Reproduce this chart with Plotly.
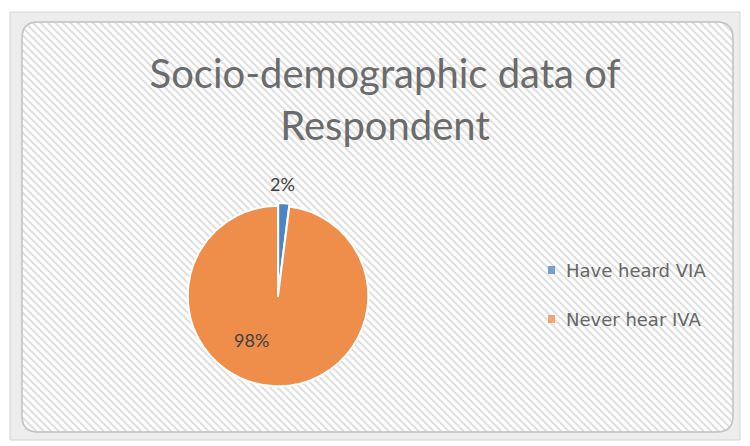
import plotly.graph_objects as go

# Survey result: awareness of VIA among respondents
labels = ["Have heard VIA", "Never hear IVA"]
values = [2, 98]
colors = ["#4A86C5", "#EF8D4A"]

W, H = 750, 446


def px(x):
    return x / W


def py(y):
    return 1 - y / H


FONT = "Lato, Open Sans, sans-serif"

fig = go.Figure()

fig.add_trace(go.Pie(
    labels=labels,
    values=values,
    sort=False,
    direction="clockwise",
    rotation=0,
    marker=dict(colors=colors, line=dict(color="white", width=2)),
    textinfo="none",
    pull=[0.03, 0],
    domain=dict(x=[px(185), px(371)], y=[py(390), py(202)]),
    showlegend=False,
    hoverinfo="label+percent",
))

shapes = []
annotations = []

# percentage labels, text computed from the values
total = sum(values)
label_pos = [(282, 184), (251, 340)]
for v, (lx, ly) in zip(values, label_pos):
    annotations.append(dict(text=f"{v / total:.0%}", xref="paper", yref="paper",
                            x=px(lx), y=py(ly), xanchor="center", yanchor="middle",
                            showarrow=False,
                            font=dict(family=FONT, size=18, color="#404040")))

# diagonal hatching over the chart area
x0, y0, x1, y1 = 22, 22, 733, 432
step = 7.5
segs = []
c = x0 - y1
while c < x1 - y0:
    # line: x - y = c, clipped to rectangle
    xa = max(x0, y0 + c)
    ya = xa - c
    xb = min(x1, y1 + c)
    yb = xb - c
    if xb > xa:
        segs.append(f"M{px(xa):.5f},{py(ya):.5f}L{px(xb):.5f},{py(yb):.5f}")
    c += step
shapes.append(dict(type="path", xref="paper", yref="paper", path="".join(segs),
                   line=dict(color="#DFDFDF", width=2), layer="below"))


# frame band: outer rectangle with a rounded-rectangle hole
def rounded(xl, yt, xr, yb, r):
    return (f"M{px(xl + r)},{py(yt)}"
            f"Q{px(xl)},{py(yt)} {px(xl)},{py(yt + r)}"
            f"L{px(xl)},{py(yb - r)}"
            f"Q{px(xl)},{py(yb)} {px(xl + r)},{py(yb)}"
            f"L{px(xr - r)},{py(yb)}"
            f"Q{px(xr)},{py(yb)} {px(xr)},{py(yb - r)}"
            f"L{px(xr)},{py(yt + r)}"
            f"Q{px(xr)},{py(yt)} {px(xr - r)},{py(yt)}Z")


outer = (f"M{px(10)},{py(12)}L{px(740)},{py(12)}L{px(740)},{py(440)}"
         f"L{px(10)},{py(440)}Z")
shapes.append(dict(type="path", xref="paper", yref="paper",
                   path=outer + rounded(22, 22, 733, 432, 16),
                   fillcolor="#EDEDED", line=dict(color="#D4D4D4", width=1),
                   layer="below"))
shapes.append(dict(type="path", xref="paper", yref="paper",
                   path=rounded(22, 22, 733, 432, 16),
                   line=dict(color="#C4C4C4", width=1.5), layer="below"))

# legend markers and labels
legend_y = [270, 319]
for lab, col, ly in zip(labels, colors, legend_y):
    shapes.append(dict(type="rect", xref="paper", yref="paper",
                       x0=px(548), x1=px(555), y0=py(ly + 4), y1=py(ly - 4),
                       fillcolor=col, line=dict(width=0), opacity=0.75))
    annotations.append(dict(text=lab, xref="paper", yref="paper",
                            x=px(564), y=py(ly), xanchor="left", yanchor="middle",
                            showarrow=False,
                            font=dict(family="DejaVu Sans, sans-serif", size=18,
                                      color="#666666")))

fig.update_layout(
    width=W, height=H,
    margin=dict(l=0, r=0, t=0, b=0),
    paper_bgcolor="white",
    plot_bgcolor="white",
    shapes=shapes,
    annotations=annotations,
    title=dict(text="Socio-demographic data of<br>Respondent",
               x=px(385), y=py(88), xanchor="center", yanchor="middle",
               font=dict(family=FONT, size=40, color="#6B6B6B")),
)

fig.write_html("out.html")
